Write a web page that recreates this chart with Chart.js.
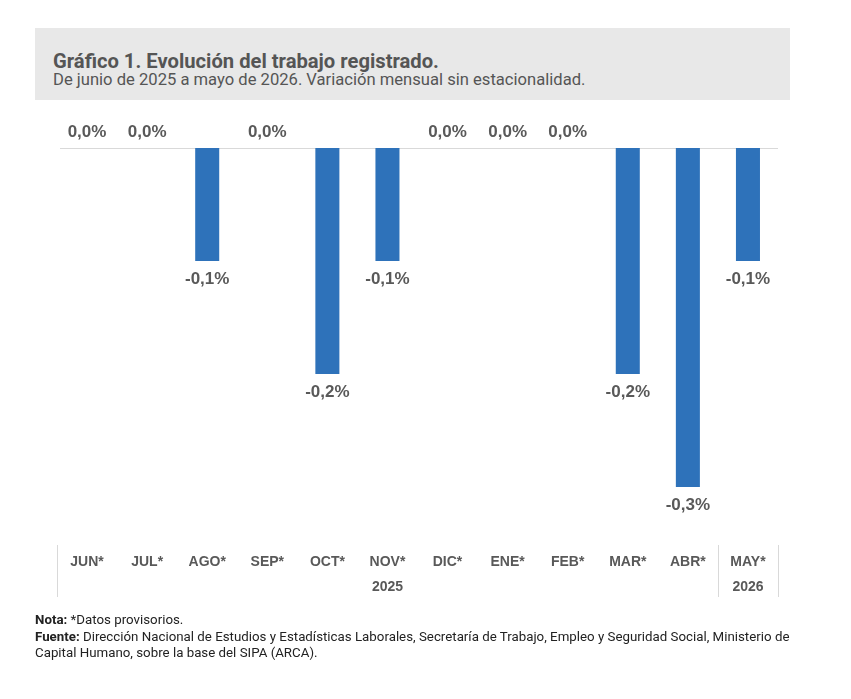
<!DOCTYPE html>
<html lang="es">
<head>
    <meta charset="UTF-8">
    <title>Gráfico 1. Evolución del trabajo registrado</title>
    <script src="https://cdn.jsdelivr.net/npm/chart.js"></script>
    <style>
        body { margin: 0; background: #fff; }
        #wrap { position: relative; width: 851px; height: 699px; overflow: hidden; }
        #chart { position: absolute; left: 0; top: 0; }
        .head { position: absolute; left: 35px; top: 28px; width: 755px; height: 72px; background: #e8e8e8; font-family: Roboto, sans-serif; color: #555; }
        .head h1 { margin: 0; position: absolute; left: 18px; top: 23px; font-size: 20.2px; line-height: 1; font-weight: bold; white-space: nowrap; }
        .head p { margin: 0; position: absolute; left: 18px; top: 44px; font-size: 16.6px; line-height: 1; white-space: nowrap; }
        .foot { position: absolute; left: 35px; top: 612px; width: 765px; font-family: Roboto, sans-serif; font-size: 13.3px; line-height: 16.7px; color: #222; }
    </style>
</head>
<body>
<div id="wrap">
    <canvas id="chart" width="851" height="699"></canvas>
    <div class="head">
        <h1>Gráfico 1. Evolución del trabajo registrado.</h1>
        <p>De junio de 2025 a mayo de 2026. Variación mensual sin estacionalidad.</p>
    </div>
    <div class="foot">
        <b>Nota:</b> *Datos provisorios.<br>
        <b>Fuente:</b> Dirección Nacional de Estudios y Estadísticas Laborales, Secretaría de Trabajo, Empleo y Seguridad Social, Ministerio de Capital Humano, sobre la base del SIPA (ARCA).
    </div>
</div>

<script>
// chart data
const months = ['JUN*', 'JUL*', 'AGO*', 'SEP*', 'OCT*', 'NOV*', 'DIC*', 'ENE*', 'FEB*', 'MAR*', 'ABR*', 'MAY*'];
const variation = [0.0, 0.0, -0.1, 0.0, -0.2, -0.1, 0.0, 0.0, 0.0, -0.2, -0.3, -0.1];
const years = [{ label: '2025', from: 0, to: 10 }, { label: '2026', from: 11, to: 11 }];

const labelFont = 'bold 17px "Liberation Sans", Arial, sans-serif';
const axisFont = 'bold 14px "Liberation Sans", Arial, sans-serif';
const gray = '#595959';

// zero line, value labels, month and year axis
const decor = {
  id: 'decor',
  beforeDatasetsDraw(chart) {
    const { ctx, chartArea } = chart;
    const y0 = chart.scales.y.getPixelForValue(0);
    ctx.save();
    ctx.strokeStyle = '#d9d9d9';
    ctx.lineWidth = 1;
    ctx.beginPath();
    ctx.moveTo(chartArea.left + 3, y0 + 0.5);
    ctx.lineTo(chartArea.right, y0 + 0.5);
    ctx.stroke();
    ctx.restore();
  },
  afterDatasetsDraw(chart) {
    const { ctx, chartArea } = chart;
    const x = chart.scales.x;
    const meta = chart.getDatasetMeta(0);
    ctx.save();
    ctx.fillStyle = gray;
    ctx.textAlign = 'center';
    ctx.textBaseline = 'middle';
    ctx.font = labelFont;
    meta.data.forEach((bar, i) => {
      const v = variation[i];
      const txt = v.toFixed(1).replace('.', ',') + '%';
      const y = v < 0 ? bar.y + 18 : bar.y - 16;
      ctx.fillText(txt, bar.x, y);
    });

    // month labels
    const axisTop = chartArea.bottom + 58;
    ctx.font = axisFont;
    months.forEach((m, i) => ctx.fillText(m, x.getPixelForValue(i), axisTop + 17));

    // year labels and separators
    const half = (x.getPixelForValue(1) - x.getPixelForValue(0)) / 2;
    ctx.strokeStyle = '#d9d9d9';
    ctx.lineWidth = 1;
    years.forEach(yr => {
      const l = x.getPixelForValue(yr.from) - half;
      const r = x.getPixelForValue(yr.to) + half;
      ctx.fillText(yr.label, (l + r) / 2, axisTop + 42);
      [l, r].forEach(px => {
        ctx.beginPath();
        ctx.moveTo(Math.round(px) + 0.5, axisTop);
        ctx.lineTo(Math.round(px) + 0.5, axisTop + 52);
        ctx.stroke();
      });
    });
    ctx.restore();
  }
};

new Chart(document.getElementById('chart'), {
  type: 'bar',
  data: {
    labels: months,
    datasets: [{
      data: variation,
      backgroundColor: '#2e72ba',
      borderWidth: 0,
      categoryPercentage: 1,
      barPercentage: 0.4
    }]
  },
  options: {
    responsive: false,
    animation: false,
    layout: { padding: { left: 57, right: 73, top: 148, bottom: 212 } },
    plugins: { legend: { display: false }, tooltip: { enabled: false } },
    scales: {
      x: { display: false },
      y: { display: false, min: -0.3, max: 0 }
    }
  },
  plugins: [decor]
});
</script>
</body>
</html>
